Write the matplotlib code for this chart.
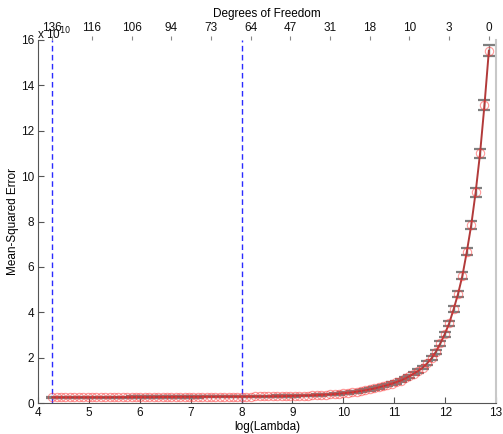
import numpy as np
import matplotlib
matplotlib.use("Agg")
import matplotlib.pyplot as plt

plt.rcParams['font.family'] = ['Liberation Sans', 'DejaVu Sans']

# log(lambda) grid (100 lambdas, evenly spaced in log)
log_lambda = np.linspace(4.28, 12.86, 100)

# cross-validated MSE (units of 1e10)
mse = [0.25, 0.25, 0.25, 0.25, 0.25, 0.25, 0.25, 0.25, 0.25, 0.25,
       0.25, 0.25, 0.25, 0.25, 0.255, 0.255, 0.255, 0.255, 0.26, 0.26,
       0.26, 0.26, 0.26, 0.26, 0.265, 0.265, 0.265, 0.265, 0.27, 0.27,
       0.27, 0.27, 0.27, 0.27, 0.275, 0.275, 0.275, 0.275, 0.28, 0.28,
       0.28, 0.28, 0.28, 0.28, 0.285, 0.285, 0.29, 0.29, 0.29, 0.295,
       0.295, 0.30, 0.30, 0.305, 0.31, 0.315, 0.32, 0.325, 0.33, 0.34,
       0.35, 0.36, 0.37, 0.38, 0.395, 0.41, 0.43, 0.45, 0.47, 0.50,
       0.53, 0.56, 0.60, 0.64, 0.69, 0.74, 0.79, 0.85, 0.92, 0.99,
       1.08, 1.18, 1.30, 1.42, 1.56, 1.75, 1.97, 2.26, 2.63, 3.04,
       3.51, 4.13, 4.80, 5.61, 6.67, 7.84, 9.29, 11.0, 13.13, 15.53]

# standard errors (units of 1e10)
se = [0.03] * 40 + [0.032] * 20 + [
      0.035, 0.035, 0.036, 0.037, 0.038, 0.04, 0.04, 0.042, 0.043, 0.045,
      0.047, 0.049, 0.05, 0.052, 0.054, 0.056, 0.058, 0.06, 0.062, 0.064,
      0.067, 0.07, 0.073, 0.077, 0.08, 0.085, 0.09, 0.095, 0.10, 0.11,
      0.12, 0.13, 0.14, 0.15, 0.165, 0.18, 0.195, 0.21, 0.23, 0.24]

# vertical reference lines: min MSE and 1SE
lambda_min = 4.28
lambda_1se = 8.0

# degrees of freedom on top axis
df_pos = [4.28, 5.06, 5.84, 6.62, 7.40, 8.18, 8.96, 9.74, 10.52, 11.30, 12.08, 12.86]
df_labels = ['136', '116', '106', '94', '73', '64', '47', '31', '18', '10', '3', '0']

xticks = [4, 5, 6, 7, 8, 9, 10, 11, 12, 13]
yticks = [0, 2, 4, 6, 8, 10, 12, 14, 16]

fig = plt.figure(figsize=(5.03, 4.34), dpi=100)
ax = fig.add_axes([38/503, 31/434, 458/503, 363/434])

ax.errorbar(log_lambda, mse, yerr=se, fmt='none', ecolor='#7f7f7f',
            elinewidth=1.0, capsize=4, capthick=1.6, zorder=2)
ax.plot(log_lambda, mse, color='#b23a3a', lw=1.4, zorder=3)
ax.plot(log_lambda, mse, 'o', ms=6, mfc='none', mec=(1.0, 0.2, 0.2, 0.5),
        mew=0.8, zorder=4)

ax.axvline(lambda_min, color='#2b2bff', ls='--', lw=1.0, dashes=(4, 2.5), zorder=1)
ax.axvline(lambda_1se, color='#2b2bff', ls='--', lw=1.0, dashes=(4, 2.5), zorder=1)

ax.set_xlim(4, 13)
ax.set_ylim(0, 16)
ax.set_xticks(xticks)
ax.set_yticks(yticks)
ax.tick_params(direction='in', length=4, labelsize=8.5, pad=3)
ax.spines['top'].set_visible(False)
ax.spines['left'].set_color('#555555')
ax.spines['bottom'].set_color('#555555')
ax.spines['right'].set_color('#c8c8c8')
ax.spines['right'].set_linewidth(1.5)
ax.tick_params(axis='both', colors='#555555', labelcolor='#111111')

ax.set_xlabel('log(Lambda)', fontsize=8.5, labelpad=1)
ax.set_ylabel('Mean-Squared Error', fontsize=8.5, labelpad=1)

ax.text(-0.003, 0.995, r'x 10$^{10}$', transform=ax.transAxes, ha='left',
        va='bottom', fontsize=8.5, color='#111111')

ax2 = ax.twiny()
ax2.set_xlim(4, 13)
ax2.set_xticks(df_pos)
ax2.set_xticklabels(df_labels)
ax2.tick_params(axis='x', direction='out', length=3, labelsize=8.5,
                colors='#888888', labelcolor='#111111', pad=1)
for s in ['top', 'bottom', 'left', 'right']:
    ax2.spines[s].set_visible(False)
ax2.set_xlabel('Degrees of Freedom', fontsize=8.5, labelpad=4)

fig.savefig('out.png', dpi=100)
